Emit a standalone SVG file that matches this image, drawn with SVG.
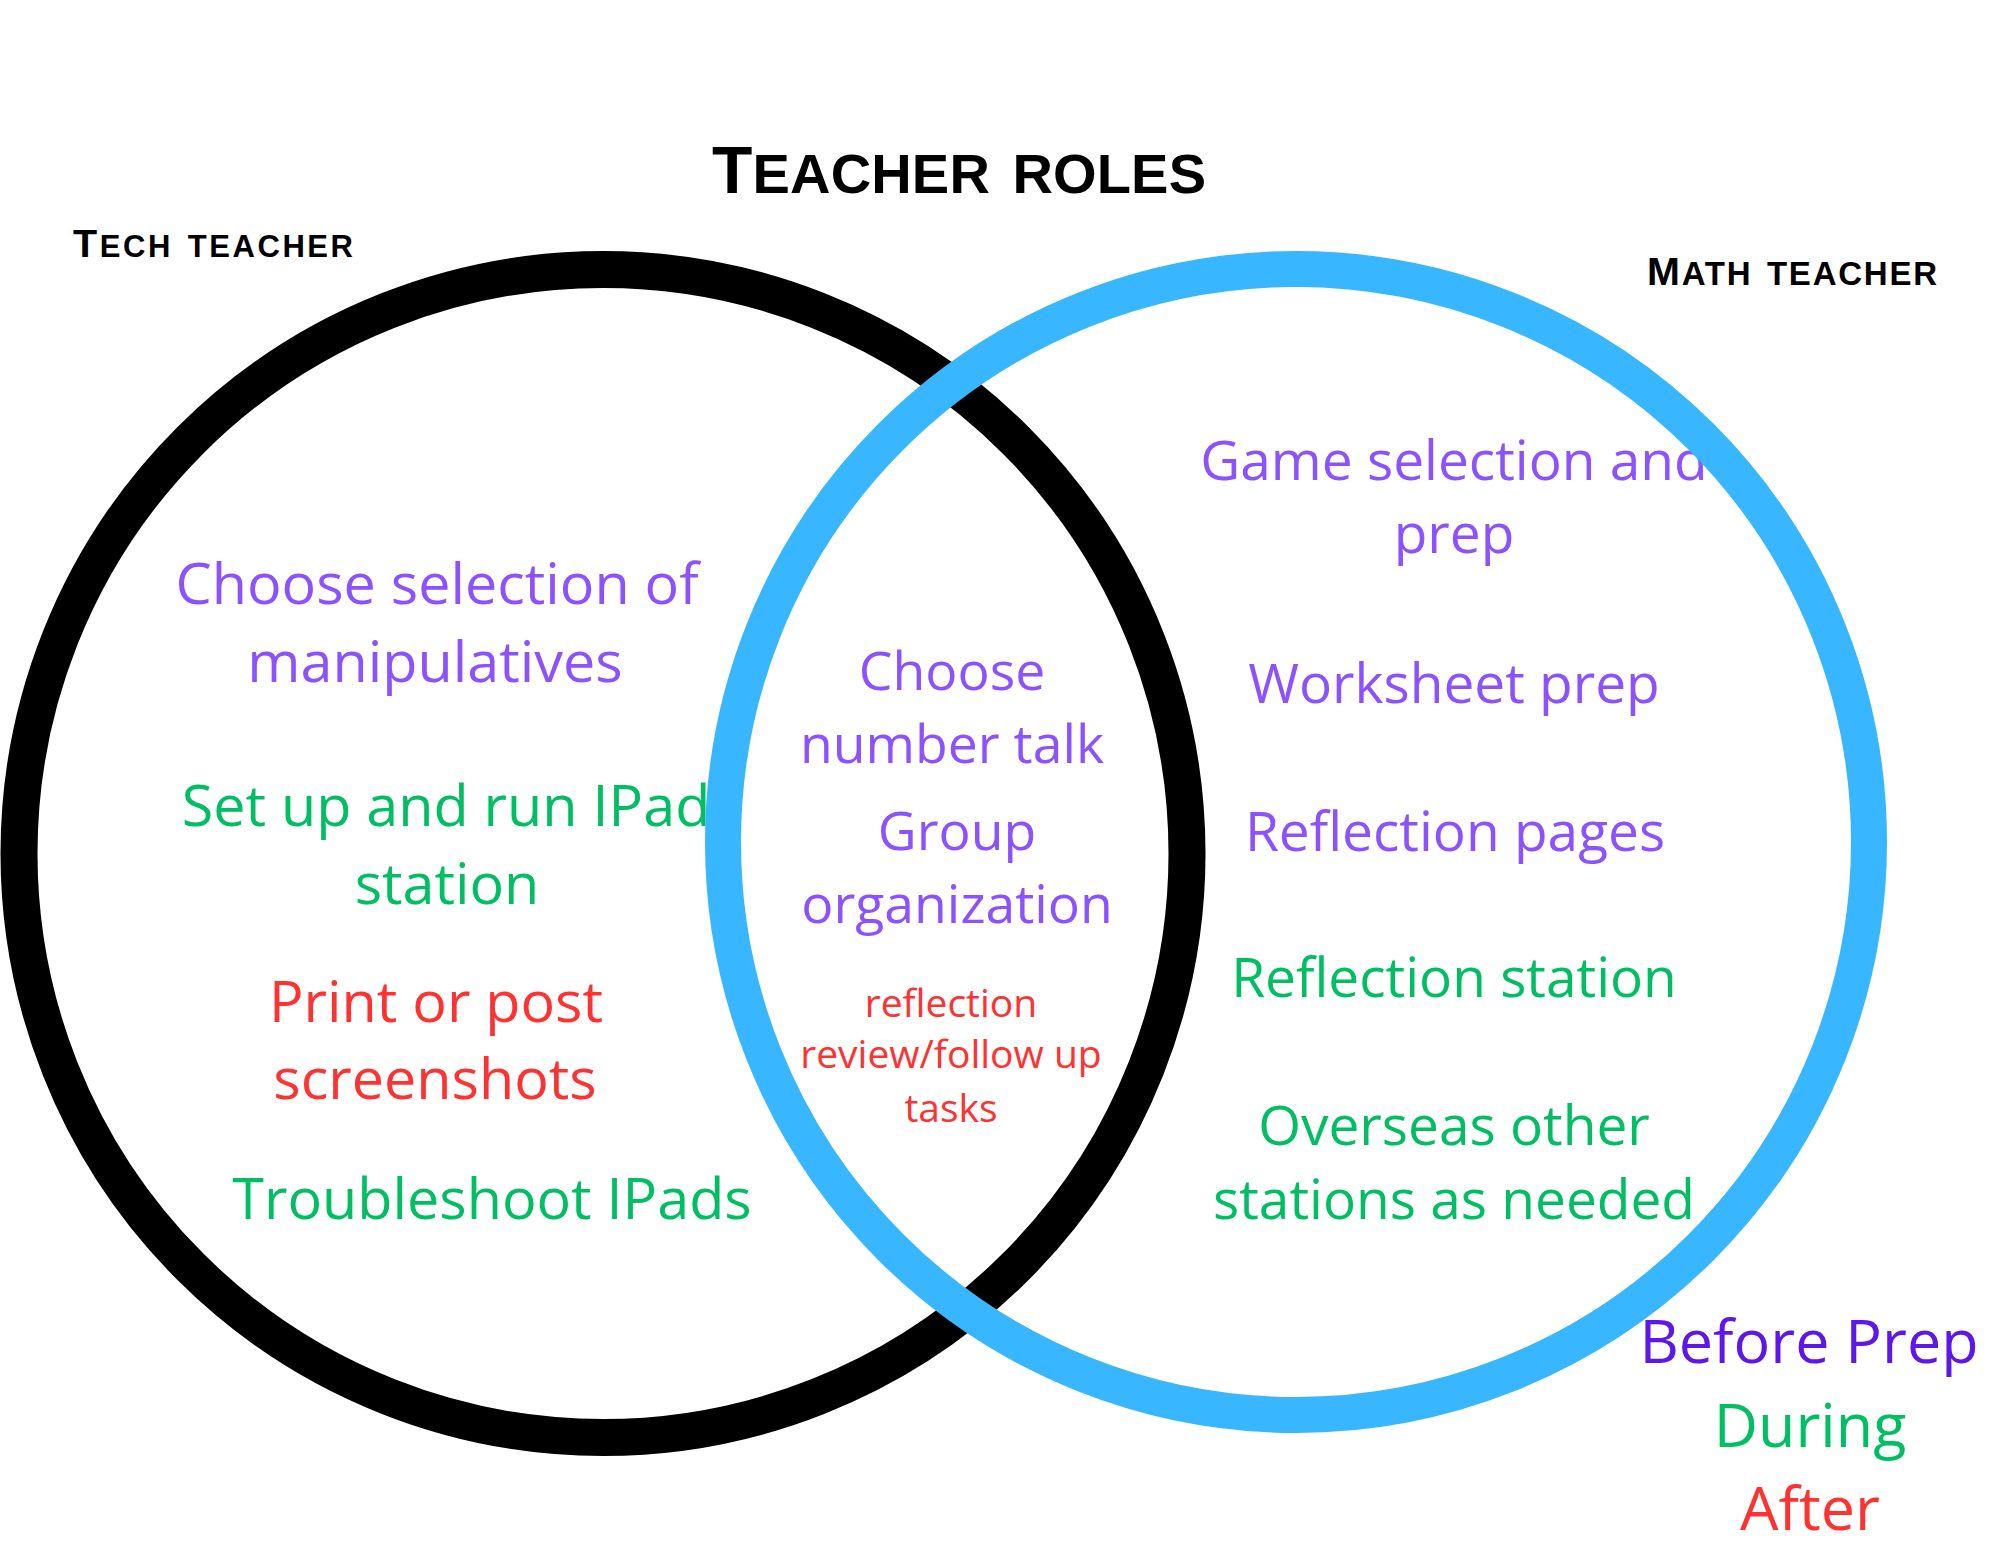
<svg xmlns="http://www.w3.org/2000/svg" width="2000" height="1545" viewBox="0 0 2000 1545">
  <style>
    .head { font-family: "Liberation Sans", Arial, sans-serif; font-weight: bold; font-variant: small-caps; fill: #000; }
    .body { font-family: "Open Sans", "Noto Sans", sans-serif; text-anchor: middle; }
    .before { fill: #8C52FF; }
    .during { fill: #00BF63; }
    .after { fill: #FF3131; }
    .key-before { fill: #5E17EB; }
    .ring { fill: none; }
  </style>

  <rect x="0" y="0" width="2000" height="1545" fill="#ffffff"/>

  <!-- Title -->
  <g id="title">
    <text class="head" x="959" y="193" text-anchor="middle" textLength="494" lengthAdjust="spacing"><tspan font-size="66">T</tspan><tspan font-size="80">eacher roles</tspan></text>
  </g>

  <!-- Tech teacher set -->
  <g id="tech-teacher">
    <circle class="ring" cx="603" cy="853.5" r="584" stroke="#000000" stroke-width="37"/>
    <text class="head" x="73" y="257" textLength="280" lengthAdjust="spacing"><tspan font-size="39.5">T</tspan><tspan font-size="44">ech teacher</tspan></text>
  </g>

  <!-- Tech teacher roles -->
  <g id="tech-roles" class="body" font-size="57.5">
    <text class="before" x="437" y="604">Choose selection of</text>
    <text class="before" x="435" y="682">manipulatives</text>
    <text class="during" x="446" y="826">Set up and run IPad</text>
    <text class="during" x="447" y="904">station</text>
    <text class="after" x="436" y="1022">Print or post</text>
    <text class="after" x="435" y="1099">screenshots</text>
    <text class="during" x="492" y="1219">Troubleshoot IPads</text>
  </g>

  <!-- Shared roles -->
  <g id="shared-roles" class="body">
    <text class="before" x="952" y="690" font-size="53.5">Choose</text>
    <text class="before" x="952" y="763" font-size="53.5">number talk</text>
    <text class="before" x="957" y="850" font-size="53.5">Group</text>
    <text class="before" x="957" y="923" font-size="53.5">organization</text>
    <text class="after" x="951" y="1017" font-size="39">reflection</text>
    <text class="after" x="951" y="1068" font-size="39">review/follow up</text>
    <text class="after" x="951" y="1122" font-size="39">tasks</text>
  </g>

  <!-- Math teacher roles -->
  <g id="math-roles" class="body" font-size="55">
    <text class="before" x="1454" y="480">Game selection and</text>
    <text class="before" x="1454" y="553">prep</text>
    <text class="before" x="1454" y="703">Worksheet prep</text>
    <text class="before" x="1455" y="851">Reflection pages</text>
    <text class="during" x="1454" y="997">Reflection station</text>
    <text class="during" x="1454" y="1145">Overseas other</text>
    <text class="during" x="1454" y="1219">stations as needed</text>
  </g>

  <!-- Math teacher set -->
  <g id="math-teacher">
    <circle class="ring" cx="1296" cy="842" r="573" stroke="#38B6FF" stroke-width="36"/>
    <text class="head" x="1647" y="285" textLength="290" lengthAdjust="spacing"><tspan font-size="39.5">M</tspan><tspan font-size="46.5">ath teacher</tspan></text>
  </g>

  <!-- Colour key -->
  <g id="key" class="body" font-size="61">
    <text class="key-before" x="1809" y="1363">Before Prep</text>
    <text class="during" x="1810" y="1447">During</text>
    <text class="after" x="1810" y="1530">After</text>
  </g>
</svg>
